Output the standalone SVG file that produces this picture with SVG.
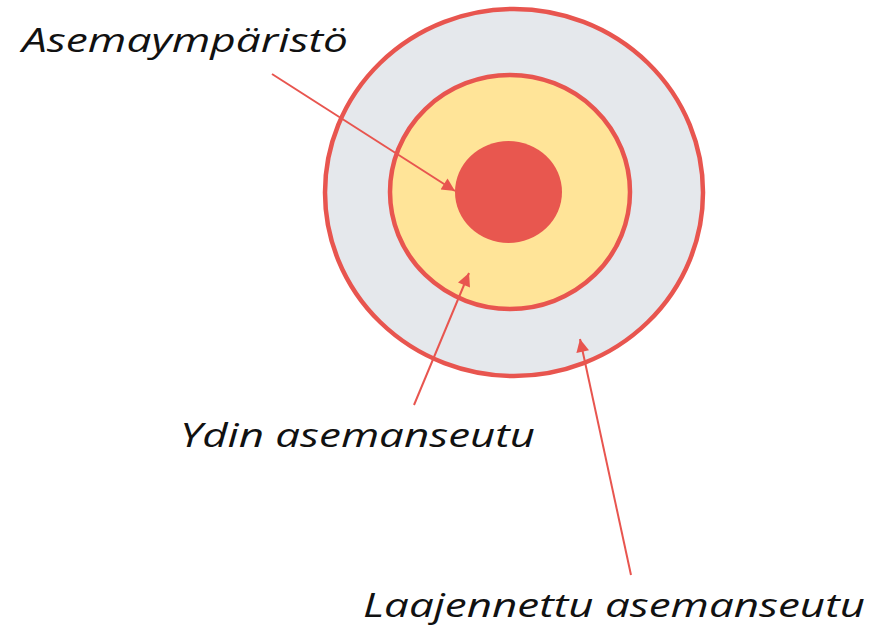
<svg xmlns="http://www.w3.org/2000/svg" width="874" height="626" viewBox="0 0 874 626">
<style>
.lbl{font-family:"Open Sans","Liberation Sans",sans-serif;font-style:italic;font-size:33px;fill:#111}
.ring{stroke:#E8554F;stroke-width:4.5}
.conn{stroke:#E8554F;stroke-width:2;fill:none;marker-end:url(#ah)}
</style>
<defs>
<marker id="ah" viewBox="0 0 10 10" refX="10" refY="5" markerWidth="7.5" markerHeight="6.5" markerUnits="strokeWidth" orient="auto">
<path d="M0,0 L10,5 L0,10 z" fill="#E8554F"/>
</marker>
</defs>
<rect width="874" height="626" fill="#fff"/>
<g id="outer"><ellipse class="ring" cx="514" cy="192.5" rx="189" ry="183.5" fill="#E5E8EC"/></g>
<g id="middle"><ellipse class="ring" cx="510" cy="192" rx="120" ry="117" fill="#FFE498"/></g>
<g id="inner"><ellipse cx="508.5" cy="192" rx="53.5" ry="51" fill="#E8574F"/></g>
<g id="connectors">
<line class="conn" x1="272" y1="74" x2="455" y2="191"/>
<line class="conn" x1="414" y1="405" x2="469" y2="273"/>
<line class="conn" x1="631" y1="575" x2="580" y2="339"/>
</g>
<g id="label-asemaymparisto"><text class="lbl" x="22" y="52" textLength="326" lengthAdjust="spacingAndGlyphs">Asemaympäristö</text></g>
<g id="label-ydin"><text class="lbl" x="180" y="447" textLength="355" lengthAdjust="spacingAndGlyphs">Ydin asemanseutu</text></g>
<g id="label-laajennettu"><text class="lbl" x="363" y="617" textLength="502" lengthAdjust="spacingAndGlyphs">Laajennettu asemanseutu</text></g>
</svg>
